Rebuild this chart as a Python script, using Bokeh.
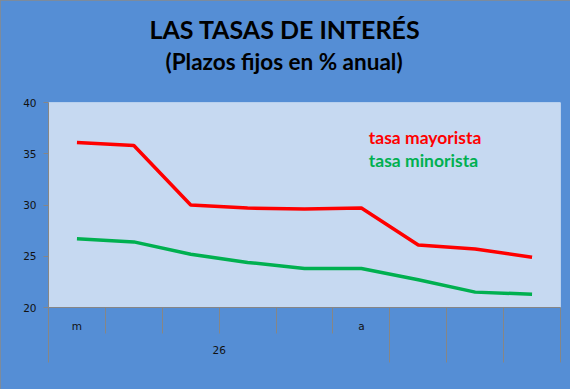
from bokeh.plotting import figure
from bokeh.models import (Range1d, LinearAxis, FixedTicker, Title, Label)
from bokeh.embed import file_html
from bokeh.resources import INLINE

# ---- data ----
positions = [1, 2, 3, 4, 5, 6, 7, 8, 9]
tasa_mayorista = [36.1, 35.8, 30.0, 29.7, 29.6, 29.7, 26.1, 25.7, 24.9]
tasa_minorista = [26.7, 26.4, 25.2, 24.4, 23.8, 23.8, 22.7, 21.5, 21.3]
series_names = ["tasa mayorista", "tasa minorista"]
x_labels = ["m", "", "", "", "", "a", "", "", ""]
group_labels = ["26"]
group_spans = [(1, 6), (7, 7), (8, 8), (9, 9)]
y_ticks = [20, 25, 30, 35, 40]

title_text = "LAS TASAS DE INTERÉS"
subtitle_text = "(Plazos fijos en % anual)"

BG = "#558ED5"
PLOT_BG = "#C6D9F1"
GRID = "#868686"
RED = "#FF0000"
GREEN = "#00B050"
TICK_FONT = "DejaVu Sans"
TICK_SIZE = "10.5px"

p = figure(width=570, height=389, output_backend="svg", toolbar_location=None,
           x_range=Range1d(0.5, 9.5), y_range=Range1d(20, 40),
           min_border_left=48, min_border_right=10, min_border_top=102,
           min_border_bottom=82, x_axis_type=None, y_axis_type=None)
p.background_fill_color = PLOT_BG
p.border_fill_color = BG
p.outline_line_color = None
p.styles = {"outline": "1px solid #8a8a8a", "outline-offset": "-1px"}

# y axis
yax = LinearAxis(ticker=FixedTicker(ticks=y_ticks, minor_ticks=[]))
yax.axis_line_color = GRID
yax.major_tick_line_color = GRID
yax.major_tick_out = 5
yax.major_tick_in = 0
yax.minor_tick_line_color = None
yax.major_label_text_font = TICK_FONT
yax.major_label_text_font_size = TICK_SIZE
yax.major_label_text_color = "#111111"
yax.major_label_standoff = 7
p.add_layout(yax, "left")
p.ygrid.grid_line_color = GRID
p.ygrid.ticker = FixedTicker(ticks=y_ticks)
p.xgrid.grid_line_color = None

# x axis, first level
bounds = [i + 0.5 for i in range(0, 10)]
xax1 = LinearAxis(ticker=FixedTicker(ticks=positions, minor_ticks=bounds))
xax1.major_label_overrides = {pos: lab for pos, lab in zip(positions, x_labels)}
xax1.axis_line_color = GRID
xax1.major_tick_out = 0
xax1.major_tick_in = 0
xax1.major_tick_line_color = None
xax1.minor_tick_line_color = GRID
xax1.minor_tick_out = 26
xax1.minor_tick_in = 0
xax1.major_label_text_font = TICK_FONT
xax1.major_label_text_font_size = TICK_SIZE
xax1.major_label_text_color = "#111111"
xax1.major_label_standoff = -14
p.add_layout(xax1, "below")

# x axis, second level
group_centers = [(a + b) / 2 for a, b in group_spans[:1]]
group_bounds = [group_spans[0][0] - 0.5] + [b + 0.5 for a, b in group_spans]
xax2 = LinearAxis(ticker=FixedTicker(ticks=group_centers, minor_ticks=group_bounds))
xax2.major_label_overrides = {c: lab for c, lab in zip(group_centers, group_labels)}
xax2.axis_line_color = None
xax2.major_tick_line_color = None
xax2.major_tick_out = 0
xax2.major_tick_in = 0
xax2.minor_tick_line_color = GRID
xax2.minor_tick_in = 25
xax2.minor_tick_out = 28
xax2.major_label_text_font = TICK_FONT
xax2.major_label_text_font_size = TICK_SIZE
xax2.major_label_text_color = "#111111"
xax2.major_label_standoff = -17
p.add_layout(xax2, "below")

# lines
p.line(positions, tasa_mayorista, line_color=RED, line_width=3.5)
p.line(positions, tasa_minorista, line_color=GREEN, line_width=3.5)

# legend-like labels
p.add_layout(Label(x=6.13, y=36.55, text=series_names[0], text_color=RED,
                   text_font="Lato", text_font_style="bold", text_font_size="17.5px",
                   text_baseline="alphabetic"))
p.add_layout(Label(x=6.13, y=34.3, text=series_names[1], text_color=GREEN,
                   text_font="Lato", text_font_style="bold", text_font_size="17.5px",
                   text_baseline="alphabetic"))

# titles (added from the frame outwards)
p.add_layout(Title(text=" ", text_font="Lato", text_font_size="10px",
                   standoff=14), "above")
p.add_layout(Title(text=subtitle_text, align="left", text_font="Lato",
                   text_font_style="bold", text_font_size="22.5px", offset=117,
                   text_color="black", standoff=0), "above")
p.add_layout(Title(text=title_text, align="left", text_font="Lato",
                   text_font_style="bold", text_font_size="25px", offset=101,
                   text_color="black", standoff=4), "above")

open("out.html", "w").write(file_html(p, INLINE))
